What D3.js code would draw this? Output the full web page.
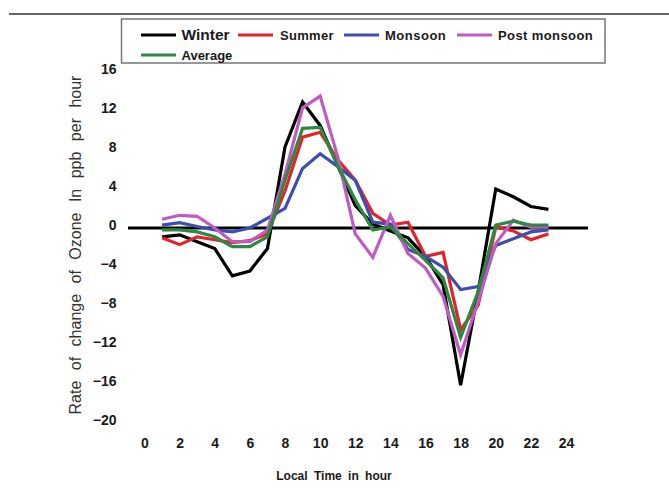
<!DOCTYPE html>
<html>
<head>
<meta charset="utf-8">
<script src="https://cdn.jsdelivr.net/npm/d3@7"></script>
<style>
  html, body { margin: 0; padding: 0; background: #fff; }
  svg { display: block; font-family: "Liberation Sans", Arial, sans-serif; }
</style>
</head>
<body>
<svg id="chart" width="669" height="497"></svg>
<script>
// Hourly rate of change of ozone (ppb per hour), hours 1..23
const hours = [1, 2, 3, 4, 5, 6, 7, 8, 9, 10, 11, 12, 13, 14, 15, 16, 17, 18, 19, 20, 21, 22, 23];
const winter      = [-0.9, -0.7, -1.4, -2.1, -4.9, -4.4, -2.1, 8.3, 12.9, 10.5, 6.4, 2.3, 0.4, -0.3, -1.0, -2.9, -5.8, -16.1, -6.5, 4.0, 3.2, 2.2, 1.9];
const summer      = [-1.0, -1.7, -0.9, -1.2, -1.5, -1.3, -0.6, 3.8, 9.3, 9.8, 7.0, 4.9, 1.5, 0.3, 0.6, -2.9, -2.5, -10.4, -7.9, 0.1, -0.3, -1.2, -0.6];
const monsoon     = [0.3, 0.55, 0.15, -0.2, -0.4, 0.0, 1.0, 2.0, 6.1, 7.6, 6.3, 4.9, 0.6, 0.4, -2.2, -2.9, -4.0, -6.3, -6.0, -1.8, -1.1, -0.4, -0.2];
const postMonsoon = [0.9, 1.3, 1.2, 0.0, -1.4, -1.4, -0.2, 5.5, 12.3, 13.5, 7.3, -0.6, -3.0, 1.3, -2.6, -4.1, -7.0, -13.0, -7.5, -1.6, 0.8, 0.1, 0.1];
const average     = [-0.2, -0.2, -0.4, -0.9, -1.9, -1.9, -0.9, 4.9, 10.2, 10.3, 6.4, 2.9, -0.2, 0.1, -1.6, -3.3, -5.1, -11.2, -6.5, 0.3, 0.7, 0.3, 0.3];

const seriesNames = ["Winter", "Summer", "Monsoon", "Post monsoon", "Average"];
const xTicks = [0, 2, 4, 6, 8, 10, 12, 14, 16, 18, 20, 22, 24];
const yTicks = [16, 12, 8, 4, 0, -4, -8, -12, -16, -20];

const colors = ["#000000", "#e3232b", "#3c4eb0", "#c25ac4", "#2a8a3e"];
const seriesValues = [winter, summer, monsoon, postMonsoon, average];

const svg = d3.select("#chart");

const x = d3.scaleLinear().domain([0, 24]).range([144.5, 566]);
const y = d3.scaleLinear().domain([-20, 16]).range([423.4, 71.7]);

// rule across the top of the figure
svg.append("line")
  .attr("x1", 9).attr("x2", 669).attr("y1", 14).attr("y2", 14)
  .attr("stroke", "#333").attr("stroke-width", 1.5);

// zero reference line
svg.append("line")
  .attr("x1", x(-0.94)).attr("x2", x(25.25))
  .attr("y1", y(0)).attr("y2", y(0))
  .attr("stroke", "#000").attr("stroke-width", 3);

// y axis labels
const yAxis = svg.append("g")
  .attr("transform", "translate(120,0)")
  .call(d3.axisLeft(y).tickValues(yTicks).tickSize(0).tickPadding(3.5).tickFormat(d3.format("d")));
yAxis.select(".domain").remove();
yAxis.selectAll("text")
  .attr("font-family", "'Liberation Sans', Arial, sans-serif")
  .attr("font-size", 14).attr("font-weight", "bold").attr("fill", "#1a1a1a")
  .attr("transform", "translate(0,-3)");

// x axis labels
const xAxis = svg.append("g")
  .attr("transform", "translate(0,432)")
  .call(d3.axisBottom(x).tickValues(xTicks).tickSize(0).tickPadding(6).tickFormat(d3.format("d")));
xAxis.select(".domain").remove();
xAxis.selectAll("text")
  .attr("font-family", "'Liberation Sans', Arial, sans-serif")
  .attr("font-size", 14).attr("font-weight", "bold").attr("fill", "#1a1a1a");

// axis titles
svg.append("text")
  .attr("x", 334).attr("y", 480)
  .attr("text-anchor", "middle")
  .attr("font-size", 12).attr("font-weight", "bold").attr("fill", "#1a1a1a")
  .attr("word-spacing", 3)
  .text("Local Time in hour");

svg.append("text")
  .attr("transform", "translate(81,245) rotate(-90)")
  .attr("text-anchor", "middle")
  .attr("font-size", 16).attr("fill", "#333")
  .attr("word-spacing", 6)
  .text("Rate of change of Ozone In ppb per hour");

// series lines
const line = d3.line()
  .x((d, i) => x(hours[i]))
  .y(d => y(d));

seriesValues.forEach((vals, k) => {
  svg.append("path")
    .datum(vals)
    .attr("d", line)
    .attr("fill", "none")
    .attr("stroke", colors[k])
    .attr("stroke-width", 3.2)
    .attr("stroke-linejoin", "miter");
});

// legend
const legend = svg.append("g");
legend.append("rect")
  .attr("x", 121.5).attr("y", 19).attr("width", 483.5).attr("height", 44)
  .attr("fill", "#fff").attr("stroke", "#777").attr("stroke-width", 1.5);

const legendItems = [
  { sx: 141, tx: 181.5, ty: 35, size: 15.5, ls: 0 },
  { sx: 238, tx: 280, ty: 35, size: 13, ls: 0.3 },
  { sx: 344, tx: 385, ty: 35, size: 13, ls: 0.5 },
  { sx: 457, tx: 498, ty: 35, size: 13, ls: 0.4 },
  { sx: 141, tx: 181.5, ty: 55, size: 13, ls: 0 }
];
legendItems.forEach((it, k) => {
  legend.append("line")
    .attr("x1", it.sx).attr("x2", it.sx + 35)
    .attr("y1", it.ty).attr("y2", it.ty)
    .attr("stroke", colors[k]).attr("stroke-width", 3);
  legend.append("text")
    .attr("x", it.tx).attr("y", it.ty + 5)
    .attr("font-size", it.size).attr("font-weight", "bold")
    .attr("letter-spacing", it.ls)
    .attr("fill", "#1a1a1a")
    .text(seriesNames[k]);
});
</script>
</body>
</html>
